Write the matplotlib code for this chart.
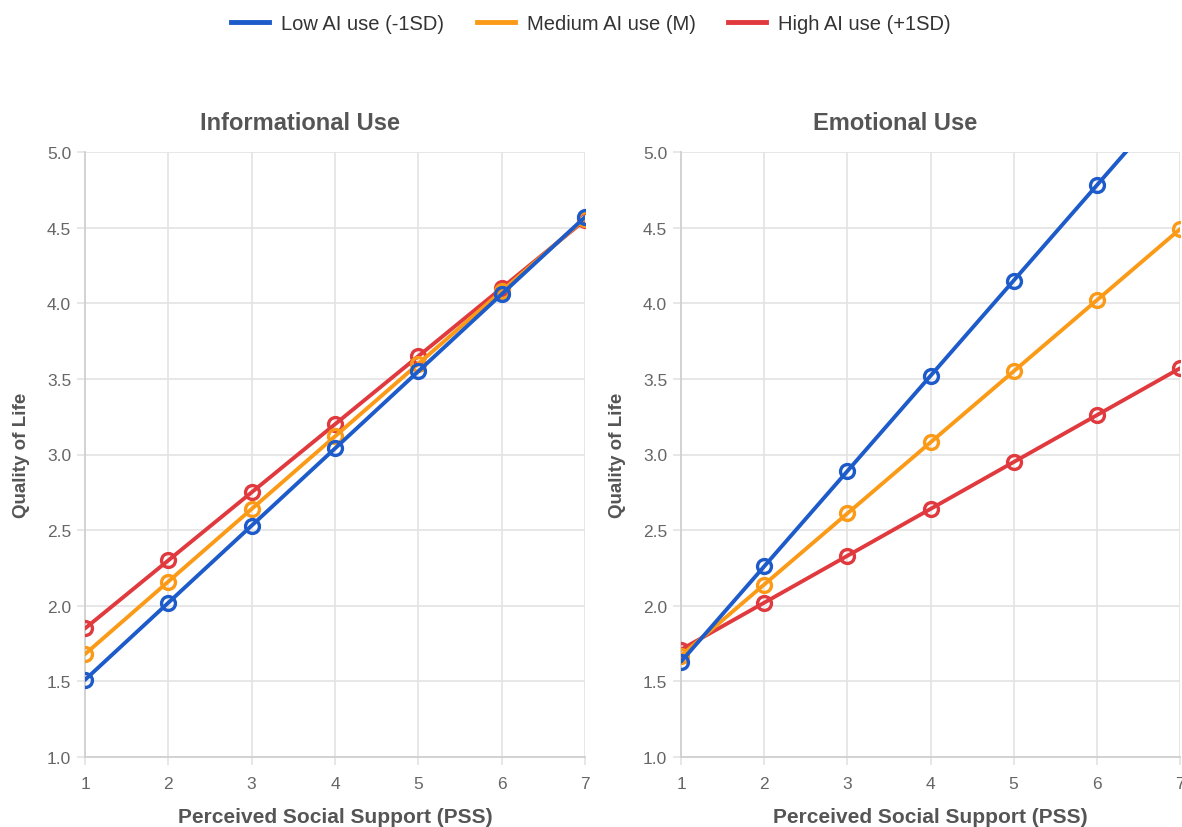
import matplotlib
matplotlib.use("Agg")
import matplotlib.pyplot as plt
from matplotlib.lines import Line2D

plt.rcParams['font.family'] = ['Liberation Sans', 'DejaVu Sans']

pss = [1, 2, 3, 4, 5, 6, 7]
series_names = ["Low AI use (-1SD)", "Medium AI use (M)", "High AI use (+1SD)"]

info_low = [1.51, 2.02, 2.53, 3.04, 3.55, 4.06, 4.57]
info_med = [1.68, 2.16, 2.64, 3.12, 3.60, 4.08, 4.56]
info_high = [1.85, 2.30, 2.75, 3.20, 3.65, 4.10, 4.55]

emo_low = [1.63, 2.26, 2.89, 3.52, 4.15, 4.78, 5.41]
emo_med = [1.67, 2.14, 2.61, 3.08, 3.55, 4.02, 4.49]
emo_high = [1.71, 2.02, 2.33, 2.64, 2.95, 3.26, 3.57]

panel_titles = ["Informational Use", "Emotional Use"]
x_label = "Perceived Social Support (PSS)"
y_label = "Quality of Life"
y_ticks = [1.0, 1.5, 2.0, 2.5, 3.0, 3.5, 4.0, 4.5, 5.0]

colors = ["#1c5bc9", "#fb9a17", "#e0393e"]
grid_c = "#e3e3e3"
text_c = "#666666"
label_c = "#555555"

fig = plt.figure(figsize=(11.82, 8.28), dpi=100)
W, H = 1182, 828
ax_specs = [(85, 585), (681, 1180)]
title_x = [300, 895]
top_px, bot_px = 153, 758

panels = [
    (info_low, info_med, info_high),
    (emo_low, emo_med, emo_high),
]

for (l, r), title, tx, data in zip(ax_specs, panel_titles, title_x, panels):
    ax = fig.add_axes([l / W, 1 - bot_px / H, (r - l) / W, (bot_px - top_px) / H])
    # draw high, medium, low (low on top)
    for idx in [2, 1, 0]:
        ax.plot(pss, data[idx], color=colors[idx], lw=2.8, marker='o',
                markersize=10, fillstyle='none', markeredgewidth=2.4,
                solid_capstyle='round', zorder=3 + (2 - idx))
    ax.set_xlim(1, 7)
    ax.set_ylim(1.0, 5.0)
    ax.set_xticks(pss)
    ax.set_yticks(y_ticks)
    ax.set_yticklabels([f"{v:.1f}" for v in y_ticks])
    ax.grid(True, color=grid_c, lw=1.2, zorder=0)
    ax.set_axisbelow(True)
    for s in ['top', 'right']:
        ax.spines[s].set_visible(False)
    for s in ['left', 'bottom']:
        ax.spines[s].set_color("#d0d0d0")
        ax.spines[s].set_linewidth(1.3)
    ax.tick_params(axis='both', colors=grid_c, length=6, width=1.2,
                   labelcolor=text_c, labelsize=12.5)
    ax.tick_params(axis='x', pad=8)
    ax.tick_params(axis='y', pad=4)
    fig.text(tx / W, 1 - 124 / H, title, fontsize=17, fontweight='bold',
             color=label_c, ha='center', va='center')
    ax.set_xlabel(x_label, fontsize=15, fontweight='bold', color=label_c, labelpad=11)
    ax.set_ylabel(y_label, fontsize=13.5, fontweight='bold', color=label_c, labelpad=12)

handles = [Line2D([0], [0], color=c, lw=3.5) for c in colors]
fig.legend(handles, series_names, loc='center', bbox_to_anchor=(0.5, 1 - 25 / H),
           ncol=3, frameon=False, fontsize=14.5, handlelength=1.9,
           handletextpad=0.6, columnspacing=1.6, labelcolor="#333333")

fig.savefig("out.png", dpi=100, facecolor="white")
